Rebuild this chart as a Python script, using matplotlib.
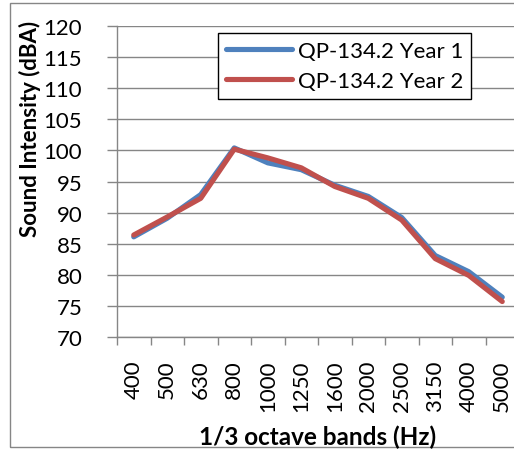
import matplotlib
matplotlib.use("Agg")
import matplotlib.pyplot as plt
from matplotlib.patches import Rectangle

plt.rcParams['font.family'] = ['Lato', 'DejaVu Sans']

bands = ["400", "500", "630", "800", "1000", "1250", "1600", "2000", "2500", "3150", "4000", "5000"]
year1 = [86.1, 89.1, 92.9, 100.4, 98.0, 96.9, 94.4, 92.6, 89.2, 83.1, 80.5, 76.4]
year2 = [86.4, 89.3, 92.3, 100.2, 98.8, 97.2, 94.2, 92.3, 88.8, 82.6, 79.9, 75.7]
series_names = ["QP-134.2 Year 1", "QP-134.2 Year 2"]
yticks = list(range(70, 121, 5))

W, H = 514, 452
fig = plt.figure(figsize=(W / 100, H / 100), dpi=100)

# outer chart border
fig.patches.append(Rectangle((10 / W, 4 / H), 1.2, (448 - 4) / H, transform=fig.transFigure,
                             fill=False, edgecolor='#868686', lw=1.0, zorder=0))

ax = fig.add_axes([117 / W, 1 - 338 / H, (519 - 117) / W, (338 - 27) / H])
x = list(range(len(bands)))
ax.plot(x, year1, color='#4F81BD', lw=3.7, solid_capstyle='round', solid_joinstyle='round', label=series_names[0])
ax.plot(x, year2, color='#C0504D', lw=3.7, solid_capstyle='round', solid_joinstyle='round', label=series_names[1])

ax.set_xlim(-0.5, len(bands) - 0.5)
ax.set_ylim(70, 120)
ax.set_yticks(yticks)
ax.set_yticklabels([str(v) for v in yticks], fontsize=16)
ax.set_xticks([i - 0.5 for i in range(len(bands) + 1)])
ax.set_xticklabels([])
ax.set_xticks(x, minor=True)
ax.set_xticklabels(bands, minor=True, rotation=90, fontsize=16, va='top', ha='center')
ax.tick_params(axis='x', which='minor', length=0, pad=16)
ax.tick_params(axis='x', which='major', length=6, color='#868686', width=1)
ax.tick_params(axis='y', length=7, color='#868686', width=1, pad=18)

ax.grid(axis='y', color='#868686', lw=1.0)
ax.set_axisbelow(True)
for s in ['top', 'right']:
    ax.spines[s].set_visible(False)
for s in ['left', 'bottom']:
    ax.spines[s].set_color('#868686')
    ax.spines[s].set_linewidth(1.0)

fig.text(30 / W, 1 - 129 / H, "Sound Intensity (dBA)", fontsize=16, fontweight='bold',
         ha='center', va='center', rotation=90)
fig.text(318 / W, 1 - 437 / H, "1/3 octave bands (Hz)", fontsize=17.5, fontweight='bold',
         ha='center', va='center')

leg = ax.legend(loc='upper left', bbox_to_anchor=(218 / W, 1 - 34 / H), bbox_transform=fig.transFigure,
                fontsize=16, frameon=True, fancybox=False, edgecolor='black', framealpha=1,
                handlelength=3.0, handletextpad=0.25, borderpad=0.35, labelspacing=0.45, borderaxespad=0)
leg.get_frame().set_linewidth(1.0)

fig.savefig("out.png", dpi=100)
